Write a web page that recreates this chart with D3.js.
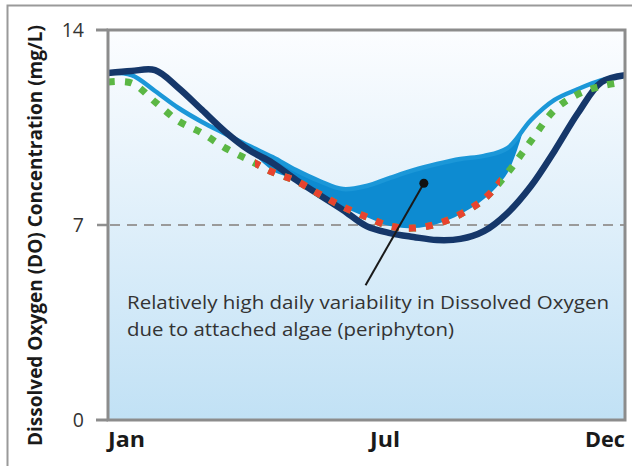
<!DOCTYPE html>
<html><head><meta charset="utf-8">
<script src="https://cdn.jsdelivr.net/npm/d3@7"></script>
<style>html,body{margin:0;padding:0;background:#fff;}svg{display:block;}</style>
</head><body>
<svg id="c" width="632" height="466"></svg>
<script>
// ---- data ----
const monthLabels = ["Jan", "Jul", "Dec"];
const monthLabelPos = [0, 6, 11];
const yTicks = [0, 7, 14];
const months = [0,0.5,1,1.5,2,2.5,3,3.5,4,4.5,5,5.5,6,6.5,7,7.5,8,8.5,9,9.5,10,10.5,11];
// low-variability stream (dark navy)
const navyDO = [12.46,12.53,12.56,11.92,11.13,10.34,9.69,9.23,8.62,8.08,7.54,6.96,6.71,6.57,6.46,6.50,6.78,7.43,8.40,9.66,11.02,12.13,12.38];
// upper daily DO (light blue)
const lightDO = [12.46,12.38,11.81,11.20,10.70,10.27,9.84,9.44,8.97,8.58,8.29,8.40,8.69,8.97,9.19,9.37,9.48,9.76,10.77,11.49,11.88,12.20,12.38];
// lower daily DO (dotted green / red)
const dottedDO = [12.13,12.10,11.42,10.73,10.30,9.76,9.33,8.90,8.58,8.11,7.65,7.29,6.96,6.89,7.04,7.39,7.93,8.87,10.02,11.13,11.70,11.99,12.13];
const redMonths = [3.13, 8.34];
// shaded daily variability band
const bandMonths = [2.9,3.5,4,4.5,5,5.5,6,6.5,7,7.5,8,8.5,8.8];
const bandUpper = [9.95,9.44,8.97,8.58,8.29,8.40,8.69,8.97,9.19,9.37,9.48,9.76,10.25];
const bandLower = [9.90,8.95,8.62,8.11,7.65,7.29,6.96,6.89,7.04,7.39,7.93,8.87,10.20];
const annotLines = ["Relatively high daily variability in Dissolved Oxygen", "due to attached algae (periphyton)"];
const annotPoint = [6.72, 8.5];   // month, mg/L
const annotEnd = [5.48, 4.84];
const yTitle = "Dissolved Oxygen (DO) Concentration (mg/L)";

// ---- layout ----
const svg = d3.select("#c");
const L = 108, R = 625, T = 30, B = 420;
const x = d3.scaleLinear().domain([0, 11]).range([L, R]);
const y = d3.scaleLinear().domain([0, 14]).range([B, T]);

// outer frame (top and left only visible)
svg.append("path").attr("d", `M7.5,470 L7.5,5.5 L640,5.5`)
  .attr("fill", "none").attr("stroke", "#9a9a9a").attr("stroke-width", 2);

// background gradient
const defs = svg.append("defs");
const g = defs.append("linearGradient").attr("id", "bg").attr("x1", 0).attr("y1", 0).attr("x2", 0).attr("y2", 1);
g.append("stop").attr("offset", "0%").attr("stop-color", "#fcfdff");
g.append("stop").attr("offset", "100%").attr("stop-color", "#c1e1f5");
svg.append("rect").attr("x", L).attr("y", T).attr("width", R - L).attr("height", B - T).attr("fill", "url(#bg)");

defs.append("clipPath").attr("id", "redclip").append("rect")
  .attr("x", x(redMonths[0])).attr("y", 0).attr("width", x(redMonths[1]) - x(redMonths[0])).attr("height", 466);
defs.append("clipPath").attr("id", "plotclip").append("rect")
  .attr("x", L).attr("y", T).attr("width", R - L).attr("height", B - T);

// dashed reference at 7
svg.append("line").attr("x1", 97).attr("x2", L).attr("y1", y(7)).attr("y2", y(7))
  .attr("stroke", "#8f8f8f").attr("stroke-width", 2.5);
svg.append("line").attr("x1", L + 2).attr("x2", R).attr("y1", y(7)).attr("y2", y(7))
  .attr("stroke", "#9a9a9a").attr("stroke-width", 2).attr("stroke-dasharray", "10,7");

const plot = svg.append("g").attr("clip-path", "url(#plotclip)");

// band
const area = d3.area().x((d, i) => x(bandMonths[i])).y0((d, i) => y(bandLower[i])).y1((d, i) => y(bandUpper[i]))
  .curve(d3.curveCatmullRom.alpha(0.5));
plot.append("path").datum(bandMonths).attr("d", area).attr("fill", "#0d8bd1");

const line = arr => d3.line().x((d, i) => x(months[i])).y(d => y(d)).curve(d3.curveCatmullRom.alpha(0.5))(arr);

plot.append("path").attr("d", line(lightDO)).attr("fill", "none").attr("stroke", "#1b97d8").attr("stroke-width", 4.5);
plot.append("path").attr("d", line(navyDO)).attr("fill", "none").attr("stroke", "#15376a").attr("stroke-width", 6.5);
plot.append("path").attr("d", line(dottedDO)).attr("fill", "none").attr("stroke", "#5bb744")
  .attr("stroke-width", 7).attr("stroke-dasharray", "7,10");
plot.append("g").attr("clip-path", "url(#redclip)").append("path").attr("d", line(dottedDO)).attr("fill", "none")
  .attr("stroke", "#e8432f").attr("stroke-width", 7).attr("stroke-dasharray", "7,10");

// annotation
svg.append("line").attr("x1", x(annotPoint[0])).attr("y1", y(annotPoint[1]))
  .attr("x2", x(annotEnd[0])).attr("y2", y(annotEnd[1])).attr("stroke", "#1a1a1a").attr("stroke-width", 2);
svg.append("circle").attr("cx", x(annotPoint[0])).attr("cy", y(annotPoint[1])).attr("r", 4.5).attr("fill", "#111");

const at = svg.append("text").attr("font-family", "Open Sans, Lato, sans-serif").attr("font-size", 18).attr("fill", "#333");
at.append("tspan").attr("x", 127).attr("y", 309).attr("textLength", 482).attr("lengthAdjust", "spacingAndGlyphs").text(annotLines[0]);
at.append("tspan").attr("x", 127).attr("y", 336).attr("textLength", 327).attr("lengthAdjust", "spacingAndGlyphs").text(annotLines[1]);

// plot frame
svg.append("rect").attr("x", L).attr("y", T).attr("width", R - L).attr("height", B - T)
  .attr("fill", "none").attr("stroke", "#8c8c8c").attr("stroke-width", 3);
// ticks at 0 and 14
[0, 14].forEach(v => svg.append("line").attr("x1", 96).attr("x2", L).attr("y1", y(v)).attr("y2", y(v))
  .attr("stroke", "#8c8c8c").attr("stroke-width", 3));

// y tick labels
svg.selectAll("text.yt").data(yTicks).enter().append("text").attr("class", "yt")
  .attr("x", 84).attr("y", d => y(d)).attr("dy", "0.36em").attr("text-anchor", "end")
  .attr("font-family", "Open Sans, Lato, sans-serif").attr("font-size", 19.5).attr("fill", "#333")
  .text(d => d);

// x labels
const labelW = [37, 30, 40];
const labelX = [108, 370, 585];
svg.selectAll("text.xl").data(monthLabels).enter().append("text").attr("class", "xl")
  .attr("x", (d, i) => labelX[i]).attr("y", 447)
  .attr("textLength", (d, i) => labelW[i]).attr("lengthAdjust", "spacingAndGlyphs")
  .attr("font-family", "Open Sans, Roboto, sans-serif")
  .attr("font-weight", "bold").attr("font-size", 21).attr("fill", "#1a1a1a")
  .text(d => d);

// y title
const yt = svg.append("text").attr("transform", "translate(42,446) rotate(-90)")
  .attr("font-family", "Open Sans, Roboto, sans-serif")
  .attr("font-weight", "bold").attr("font-size", 21).attr("fill", "#1a1a1a").text(yTitle);
{
  const natural = yt.node().getComputedTextLength();
  const fs = Math.min(21, 21 * 436 / natural);
  yt.attr("font-size", fs).attr("textLength", 421).attr("lengthAdjust", "spacingAndGlyphs");
}
</script>
</body></html>
